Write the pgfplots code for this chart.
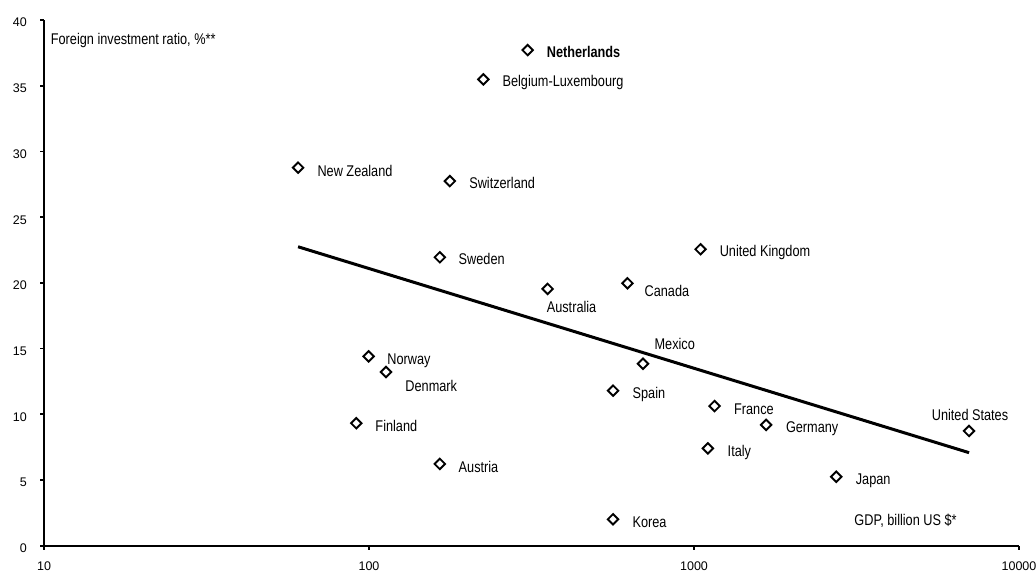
\documentclass[border=0pt]{standalone}
\usepackage{fontspec}
\setmainfont{Liberation Sans}[FakeStretch=0.82]
\newfontfamily\tickfont{Liberation Sans}
\usepackage{pgfplots}
\pgfplotsset{compat=1.18}
\begin{document}
\begin{tikzpicture}
\begin{axis}[
  name=ax,
  scale only axis,
  width=975bp, height=525.6bp,
  xmode=log, xmin=10, xmax=10000, ymin=0, ymax=40,
  axis x line*=bottom, axis y line*=left,
  axis line style={line width=1.9bp},
  xtick={10,100,1000,10000}, xticklabels={10,100,1000,10000},
  ytick={0,5,10,15,20,25,30,35,40},
  xminorticks=false,
  tick align=outside,
  major tick length=4bp,
  tick style={line width=1.7bp, black},
  /pgf/number format/assume math mode=true,
  tick label style={font=\tickfont\fontsize{12.5bp}{14bp}\selectfont},
  yticklabel style={anchor=east, inner sep=0pt, xshift=-13bp, yshift=-2.5bp},
  xticklabel style={anchor=north, inner sep=0pt, yshift=-11.5bp},
  clip=false,
]
\addplot[line width=3bp, black] coordinates {(60.5,22.75) (7020,7.08)};
\addplot[only marks, mark=square, mark size=3.7bp,
  mark options={rotate=45, line width=1.9bp, black, fill=white},
  point meta=explicit symbolic,
  nodes near coords,
  visualization depends on={\thisrow{dx} \as \dx},
  visualization depends on={\thisrow{dy} \as \dy},
  every node near coord/.append style={anchor=base west, inner sep=0pt,
    xshift=\dx pt, yshift=\dy pt, font=\fontsize{15.5bp}{18bp}\selectfont, black},
] table[x=x, y=y, meta=label] {
x y dx dy label
307.7 37.72 18.3 -7.2 {\textbf{Netherlands}}
224.8 35.49 18.4 -7.2 Belgium-Luxembourg
60.5 28.77 18.6 -8.5 {New Zealand}
177.3 27.75 18.6 -7.5 Switzerland
165.2 21.95 18 -7.5 Sweden
1047.8 22.56 18.3 -7.5 {United Kingdom}
354.4 19.54 -1.7 -23.2 Australia
624.1 19.97 16.3 -12.9 Canada
99.7 14.41 18 -7.7 Norway
112.8 13.22 18.6 -19.5 Denmark
696.7 13.85 10.7 14.5 Mexico
563.6 11.80 18.7 -8 Spain
1157 10.63 18.7 -8.3 France
1667 9.19 19 -7.8 Germany
91.4 9.32 18.3 -7.9 Finland
1103 7.41 19 -8.2 Italy
165.2 6.22 18 -8.2 Austria
2740 5.25 18.7 -8.1 Japan
7020 8.73 -38.3 10.5 {United States}
563.6 2.01 18.7 -7.9 Korea
};
\node[anchor=base west, inner sep=0pt, xshift=6.7bp, font=\fontsize{15.5bp}{18bp}\selectfont] at (axis cs:10,38.16) {Foreign investment ratio, \%**};
\node[anchor=base west, inner sep=0pt, font=\fontsize{15.5bp}{18bp}\selectfont] at (axis cs:3112,1.54) {GDP, billion US \$*};
\end{axis}
\pgfresetboundingbox
\path[use as bounding box] ([shift={(-44bp,-28.3bp)}]ax.south west) rectangle ([shift={(17bp,20.1bp)}]ax.north east);
\end{tikzpicture}
\end{document}
